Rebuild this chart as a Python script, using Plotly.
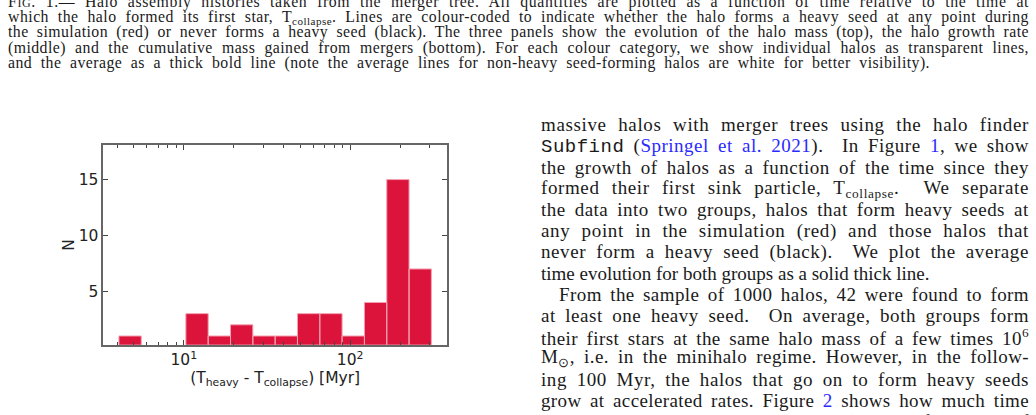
import json
import plotly.graph_objects as go

# ---- data ----
bin_edges = [4.074, 5.548, 7.555, 10.29, 14.01, 19.09, 25.99, 35.40,
             48.21, 65.67, 89.42, 121.8, 165.9, 225.9, 307.6]
counts = [1, 0, 0, 3, 1, 2, 1, 1, 3, 3, 1, 4, 15, 7]
x_major_ticks = [10, 100]
x_major_text = ["10<sup>1</sup>", "10<sup>2</sup>"]
x_minor_ticks = [4, 5, 6, 7, 8, 9, 20, 30, 40, 50, 60, 70, 80, 90, 200, 300]
y_ticks = [5, 10, 15]

caption_lines = [
    "F<span style='font-size:12px'>IG</span>. 1.— Halo assembly histories taken from the merger tree. All quantities are plotted as a function of time relative to the time at",
    "which the halo formed its first star, T<sub>collapse</sub>. Lines are colour-coded to indicate whether the halo forms a heavy seed at any point during",
    "the simulation (red) or never forms a heavy seed (black). The three panels show the evolution of the halo mass (top), the halo growth rate",
    "(middle) and the cumulative mass gained from mergers (bottom). For each colour category, we show individual halos as transparent lines,",
    "and the average as a thick bold line (note the average lines for non-heavy seed-forming halos are white for better visibility).",
]
caption_right = [1028, 1028, 1028, 1028, 929]

BL = "<span style='color:#2a2aff'>"
body_lines = [
    "massive halos with merger trees using the halo finder",
    "<span style='font-family:Liberation Mono'>Subfind</span> (" + BL + "Springel et al. 2021</span>).  In Figure " + BL + "1</span>, we show",
    "the growth of halos as a function of the time since they",
    "formed their first sink particle, T<sub>collapse</sub>.  We separate",
    "the data into two groups, halos that form heavy seeds at",
    "any point in the simulation (red) and those halos that",
    "never form a heavy seed (black).  We plot the average",
    "time evolution for both groups as a solid thick line.",
    "From the sample of 1000 halos, 42 were found to form",
    "at least one heavy seed.  On average, both groups form",
    "their first stars at the same halo mass of a few times 10<sup>6</sup>",
    "M<sub>⊙</sub>, i.e. in the minihalo regime. However, in the follow-",
    "ing 100 Myr, the halos that go on to form heavy seeds",
    "grow at accelerated rates. Figure " + BL + "2</span> shows how much time",
    "passes between the initial collapse (i.e. the formation of",
]
body_right = [1028] * 15
body_right[7] = 903
indent_lines = [8]

W, H = 1036, 415

# ---- histogram bars built from edges and counts ----
xs, ys = [], []
for i, c in enumerate(counts):
    if c <= 0:
        continue
    x0, x1 = bin_edges[i], bin_edges[i + 1]
    xs += [x0, x0, x1, x1, x0, None]
    ys += [0, c, c, 0, 0, None]

fig = go.Figure()
fig.add_trace(go.Scatter(
    x=xs, y=ys, mode="lines", fill="toself",
    fillcolor="#DC143C", line=dict(color="#f3a0b0", width=1),
    hoverinfo="skip", showlegend=False,
))

axis_font = dict(family="DejaVu Sans", size=15.5, color="#222222")
fig.update_layout(
    width=W, height=H,
    margin=dict(l=0, r=0, t=0, b=0),
    paper_bgcolor="white", plot_bgcolor="white",
    font=axis_font,
    xaxis=dict(
        type="log", range=[0.516, 2.582], domain=[103.3 / W, 447 / W],
        tickmode="array", tickvals=x_major_ticks, ticktext=x_major_text,
        tickfont=axis_font,
        ticks="inside", ticklen=5, tickwidth=1, tickcolor="#444",
        minor=dict(ticks="inside", ticklen=3, tickwidth=1, tickcolor="#444",
                   tickmode="array", tickvals=x_minor_ticks),
        showline=True, linecolor="#666", linewidth=1.5, mirror="ticks",
        showgrid=False, zeroline=False,
        title=dict(text="(T<sub>heavy</sub> - T<sub>collapse</sub>) [Myr]",
                   font=axis_font, standoff=2),
    ),
    yaxis=dict(
        range=[0.22, 18.07], domain=[1 - 344.7 / H, 1 - 145.3 / H],
        tickmode="array", tickvals=y_ticks, tickfont=axis_font,
        ticks="inside", ticklen=5, tickwidth=1, tickcolor="#444",
        showline=True, linecolor="#666", linewidth=1.5, mirror="ticks",
        showgrid=False, zeroline=False,
        title=dict(text="N", font=axis_font, standoff=0),
    ),
)

targets = []

cap_font = dict(family="Liberation Serif", size=15.8, color="#1a1a1a")
cap_x, cap_y0, cap_dy = 7, 1.5, 15.5
for k, t in enumerate(caption_lines):
    fig.add_annotation(
        text=t, xref="paper", yref="paper",
        x=cap_x / W, y=1 - (cap_y0 + cap_dy * k) / H,
        xanchor="left", yanchor="middle", align="left", showarrow=False,
        font=cap_font, borderpad=0,
    )
    targets.append(caption_right[k] - cap_x)

body_font = dict(family="Liberation Serif", size=19, color="#1a1a1a")
body_y0, body_dy = 125.0, 21.2
for k, t in enumerate(body_lines):
    x0 = 558 if k in indent_lines else 540
    fig.add_annotation(
        text=t, xref="paper", yref="paper",
        x=x0 / W, y=1 - (body_y0 + body_dy * k) / H,
        xanchor="left", yanchor="middle", align="left", showarrow=False,
        font=body_font, borderpad=0,
    )
    targets.append(body_right[k] - x0)

# justify the text lines (LaTeX-like) by widening letter/word spacing
post = """
var gd = document.getElementById('{plot_id}');
var targets = TARGETS;
gd.querySelectorAll('g.annotation').forEach(function(g){
  var idx = parseInt(g.getAttribute('data-index'));
  var t = targets[idx];
  if (!t) return;
  var txt = g.querySelector('text.annotation-text');
  if (!txt) return;
  var w = txt.getBBox().width;
  var s = txt.textContent;
  var nch = s.length;
  var nsp = (s.match(/ /g) || []).length;
  var d = t - w;
  if (d <= 0 || nsp === 0) return;
  txt.style.letterSpacing = (0.4 * d / nch) + 'px';
  var w2 = txt.getBBox().width;
  txt.style.wordSpacing = ((t - w2) / nsp) + 'px';
});
""".replace("TARGETS", json.dumps(targets))

fig.write_html("out.html", post_script=post)
